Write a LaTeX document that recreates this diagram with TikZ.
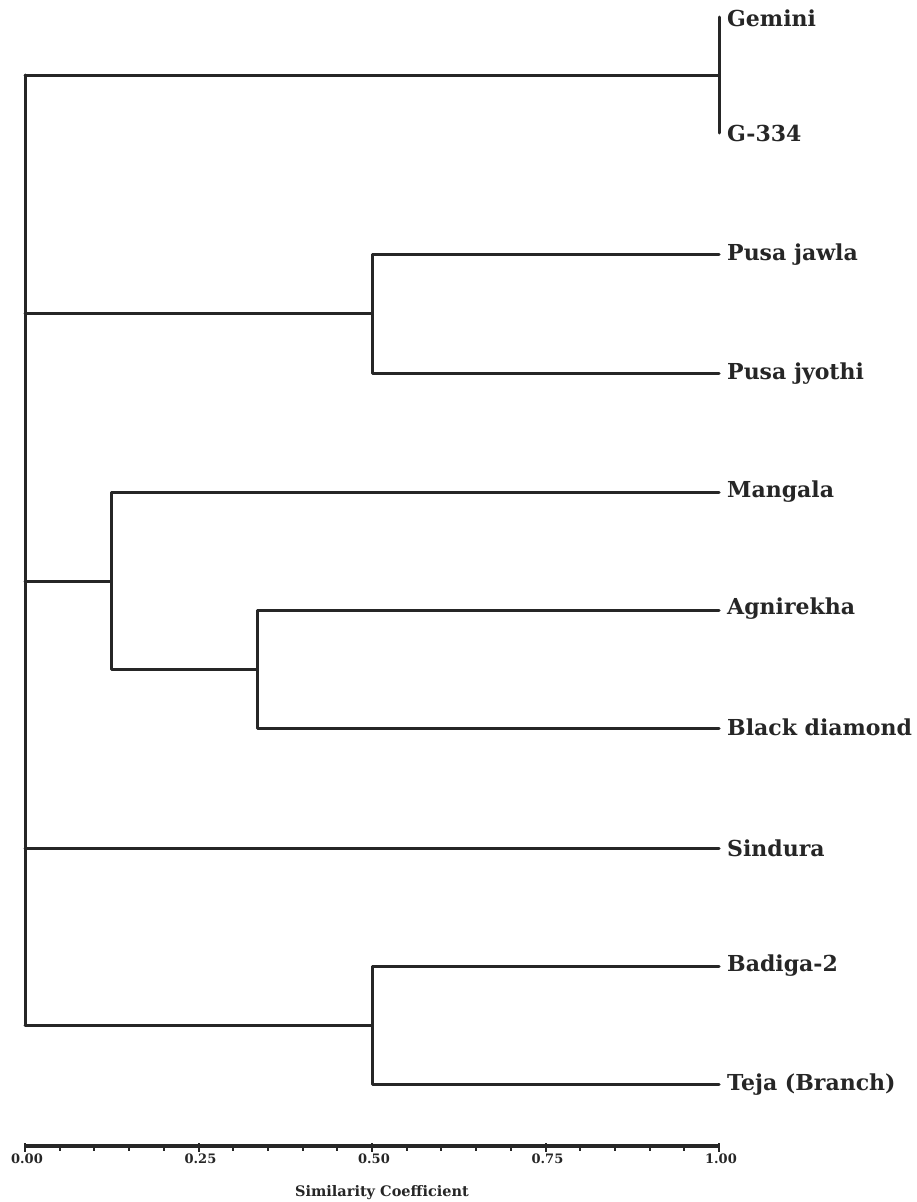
\documentclass[tikz,border=0pt]{standalone}
\usepackage{fontspec}
\setmainfont{DejaVu Serif}
\usetikzlibrary{calc}
\definecolor{ink}{HTML}{262626}
\tikzset{
  branch/.style={draw=ink, line width=3pt, line cap=round, line join=round},
  leaflabel/.style={anchor=west, inner sep=0pt, font=\fontsize{22}{22}\selectfont\bfseries, text=ink},
  ticklabel/.style={anchor=north, inner sep=0pt, font=\fontsize{13}{13}\selectfont\bfseries, text=ink},
  axistitle/.style={anchor=center, inner sep=0pt, font=\fontsize{14.5}{14.5}\selectfont\bfseries, text=ink},
  axisline/.style={draw=ink, line width=3.2pt},
  tickmark/.style={draw=ink, line width=2pt}
}
\begin{document}
\begin{tikzpicture}[x=1pt,y=-1pt]
\useasboundingbox (0,0) rectangle (916,1202);
\fill[white] (0,0) rectangle (916,1202);
% leaf tips (x = 1.00)
\coordinate (tGem) at (719,17);
\coordinate (tG3) at (719,133);
\coordinate (tPj) at (719,254);
\coordinate (tPy) at (719,373);
\coordinate (tMa) at (719,492);
\coordinate (tAg) at (719,610);
\coordinate (tBd) at (719,728);
\coordinate (tSi) at (719,848);
\coordinate (tBa) at (719,966);
\coordinate (tTe) at (719,1084);
% internal nodes
\coordinate (nGem) at (719,75);
\coordinate (nPusa) at (372,313);
\coordinate (nAB) at (257,669);
\coordinate (nMan) at (111,581);
\coordinate (nBad) at (372,1025);
\coordinate (rTop) at (25,75);
\coordinate (rBot) at (25,1025);
% labels
\node[leaflabel] (Gem) at (727,18) {Gemini};
\node[leaflabel] (G3) at (727,133) {G-334};
\node[leaflabel] (Pj) at (727,255) {Pusa jawla};
\node[leaflabel] (Py) at (727,374) {Pusa jyothi};
\node[leaflabel] (Ma) at (727,492) {Mangala};
\node[leaflabel] (Ag) at (727,609) {Agnirekha};
\node[leaflabel] (Bd) at (727,727) {Black diamond};
\node[leaflabel] (Si) at (727,848) {Sindura};
\node[leaflabel] (Ba) at (727,966) {Badiga-2};
\node[leaflabel] (Te) at (727,1085) {Teja (Branch)};
% tree
\draw[branch] (tGem) -- (tG3);
\draw[branch] (rTop) -- (nGem);
\draw[branch] (rTop) -- (rBot);
\draw[branch] (tPj) -| (nPusa) |- (tPy);
\draw[branch] (rTop |- nPusa) -- (nPusa);
\draw[branch] (tMa) -| (nMan) |- (nAB);
\draw[branch] (rTop |- nMan) -- (nMan);
\draw[branch] (tAg) -| (nAB) |- (tBd);
\draw[branch] (rTop |- tSi) -- (tSi);
\draw[branch] (tBa) -| (nBad) |- (tTe);
\draw[branch] (rBot) -- (nBad);
% axis
\coordinate (a0) at (25,1146);
\coordinate (a1) at (719,1146);
\draw[axisline] (a0) -- (a1);
\foreach \i in {0,...,20} {
  \draw[tickmark] ($(a0)!\i/20!(a1)$) -- ++(0,5);
}
\foreach \i/\v in {0/0.00,5/0.25,10/0.50,15/0.75,20/1.00} {
  \draw[tickmark] ($(a0)!\i/20!(a1)$) ++(0,-3) -- ++(0,9);
  \node[ticklabel] (lab\i) at ($(a0)!\i/20!(a1)+(2,8)$) {\v};
}
\node[axistitle] (title) at (382,1193) {Similarity Coefficient};
\end{tikzpicture}
\end{document}
